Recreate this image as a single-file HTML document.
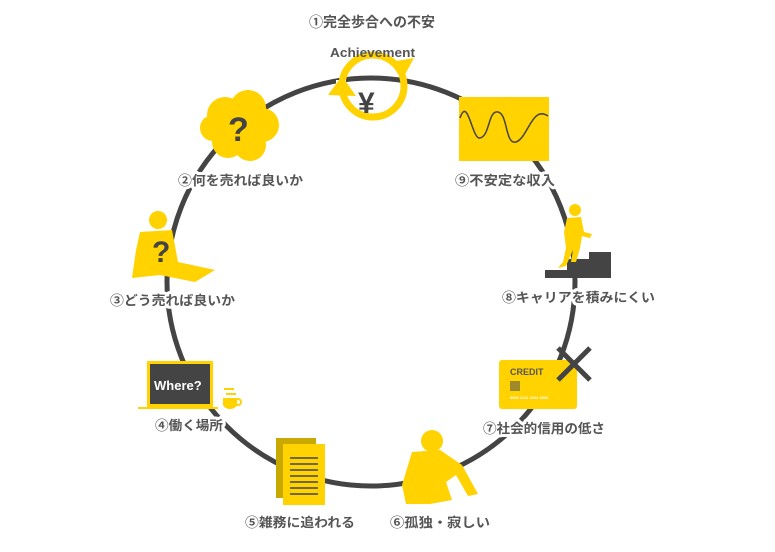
<!DOCTYPE html>
<html><head><meta charset="utf-8"><style>
html,body{margin:0;padding:0;background:#fff;}
svg{display:block}
text{font-family:"Liberation Sans","Noto Sans CJK JP",sans-serif;font-weight:bold;fill:#555;}
.l{stroke:#fff;stroke-width:6px;paint-order:stroke;stroke-linejoin:round;}
</style></head><body>
<svg width="775" height="552" viewBox="0 0 775 552" xmlns="http://www.w3.org/2000/svg">
<circle cx="371" cy="282" r="204" fill="none" stroke="#444" stroke-width="5"/>

<!-- 1 -->
<text x="309" y="27" font-size="14" textLength="126" lengthAdjust="spacingAndGlyphs">①完全歩合への不安</text>
<circle cx="373" cy="86" r="31" fill="none" stroke="#FFD200" stroke-width="7"/>
<rect x="395" y="70" width="8" height="6" fill="#fff"/>
<rect x="336" y="80" width="10" height="6" fill="#fff"/>
<polygon points="390,62 414,58 402,80" fill="#FFD200"/>
<polygon points="328,95 342,76 356,96" fill="#FFD200"/>
<text x="330" y="57" font-size="13" textLength="85" lengthAdjust="spacingAndGlyphs">Achievement</text>
<path d="M343,80 A31,31 0 0 1 400,72" fill="none" stroke="#444" stroke-width="0"/>
<text x="358" y="113" font-size="30" style="fill:#444">¥</text>

<!-- 2 cloud -->
<g fill="#FFD200">
<circle cx="225" cy="115" r="18"/><circle cx="248" cy="108" r="18"/><circle cx="262" cy="125" r="17"/>
<circle cx="250" cy="145" r="16"/><circle cx="228" cy="142" r="16"/><circle cx="213" cy="128" r="13"/>
<circle cx="240" cy="128" r="20"/>
</g>
<text x="228" y="141" font-size="34" style="fill:#444">?</text>
<text x="178" y="185" font-size="13" class="l" textLength="125" lengthAdjust="spacingAndGlyphs">②何を売れば良いか</text>

<!-- 3 -->
<g fill="#FFD200">
<circle cx="158" cy="220" r="9"/>
<path d="M140,232 L172,230 L178,262 L215,270 L195,282 L160,275 L132,278 L136,250 Z"/>
</g>
<text x="152" y="262" font-size="30" style="fill:#444">?</text>
<text x="110" y="305" font-size="13" class="l" textLength="125" lengthAdjust="spacingAndGlyphs">③どう売れば良いか</text>

<!-- 4 laptop -->
<rect x="147" y="361" width="66" height="46" fill="#FFD200"/>
<rect x="150" y="364" width="60" height="40" fill="#444"/>
<rect x="138" y="407" width="80" height="2" fill="#FFD200"/>
<text x="154" y="390" font-size="13" style="fill:#fff">Where?</text>
<rect x="224" y="388" width="10" height="2" fill="#FFD200"/><rect x="226" y="393" width="10" height="2" fill="#FFD200"/>
<path d="M223,398 h14 v6 a7,5 0 0 1 -14,0 Z" fill="#FFD200"/>
<circle cx="238" cy="402" r="3" fill="none" stroke="#FFD200" stroke-width="2"/>
<text x="155" y="430" font-size="13" class="l" textLength="68" lengthAdjust="spacingAndGlyphs">④働く場所</text>

<!-- 5 docs -->
<rect x="276" y="438" width="40" height="60" fill="#C9A800"/>
<rect x="283" y="444" width="42" height="61" fill="#FFD200"/>
<g stroke="#444" stroke-width="1.5">
<line x1="290" y1="458" x2="318" y2="458"/><line x1="290" y1="464" x2="318" y2="464"/>
<line x1="290" y1="470" x2="318" y2="470"/><line x1="290" y1="476" x2="318" y2="476"/>
<line x1="290" y1="482" x2="318" y2="482"/><line x1="290" y1="488" x2="318" y2="488"/>
<line x1="290" y1="494" x2="318" y2="494"/></g>
<text x="245" y="527" font-size="13" class="l" textLength="110" lengthAdjust="spacingAndGlyphs">⑤雑務に追われる</text>

<!-- 6 person -->
<g fill="#FFD200">
<circle cx="432" cy="441" r="11"/>
<path d="M412,452 L440,450 L462,465 L478,494 L468,496 L456,475 L446,482 L452,500 L430,504 L406,504 L402,485 Z"/>
</g>
<text x="390" y="527" font-size="13" class="l" textLength="100" lengthAdjust="spacingAndGlyphs">⑥孤独・寂しい</text>

<!-- 7 card -->
<rect x="499" y="360" width="78" height="49" rx="3" fill="#FFD200"/>
<text x="510" y="375" font-size="9" fill="#555">CREDIT</text>
<rect x="510" y="381" width="10" height="10" fill="#9E8A2C"/>
<text x="510" y="399" font-size="4" style="fill:#fff">0000 1111 2222 3333</text>
<path d="M558,348 L590,380 M590,348 L558,380" stroke="#444" stroke-width="5"/>
<text x="483" y="433" font-size="13" class="l" textLength="122" lengthAdjust="spacingAndGlyphs">⑦社会的信用の低さ</text>

<!-- 8 stairs -->
<path d="M545,278 V270 H567 V259 H589 V252 H611 V278 Z" fill="#444"/>
<g fill="#FFD200">
<circle cx="575" cy="210" r="6"/>
<path d="M567,218 L581,217 L584,232 L592,234 L590,238 L582,236 L580,248 L576,262 L571,262 L573,250 L566,266 L558,268 L563,262 L566,248 L564,232 Z"/>
</g>
<text x="502" y="302" font-size="13" class="l" textLength="153" lengthAdjust="spacingAndGlyphs">⑧キャリアを積みにくい</text>

<!-- 9 -->
<rect x="459" y="97" width="90" height="64" fill="#FFD200"/>
<path d="M460,118 C468,95 472,140 480,138 C490,136 488,110 498,112 C508,114 505,145 516,142 C528,138 532,105 548,116" fill="none" stroke="#444" stroke-width="1.5"/>
<text x="455" y="185" font-size="13" class="l" textLength="100" lengthAdjust="spacingAndGlyphs">⑨不安定な収入</text>
</svg>
</body></html>
